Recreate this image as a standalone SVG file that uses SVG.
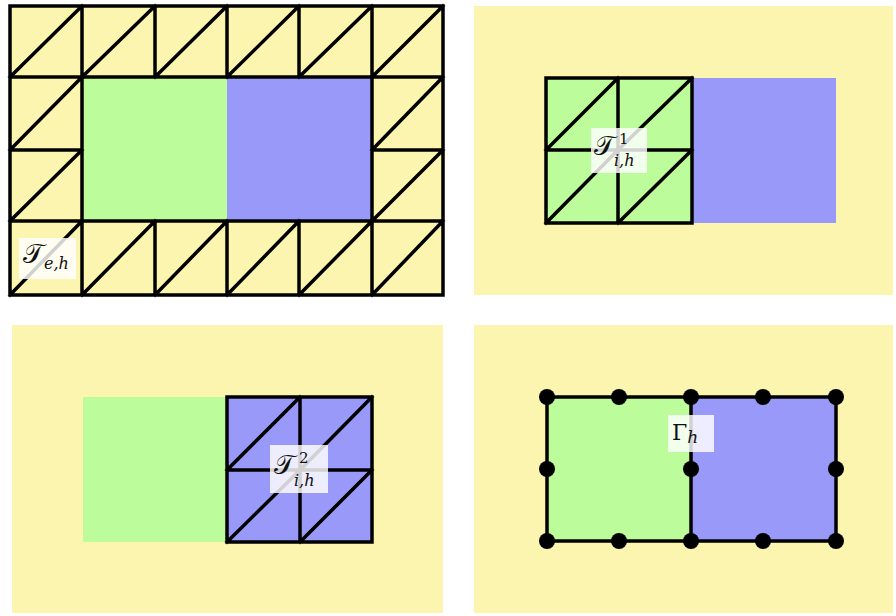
<svg xmlns="http://www.w3.org/2000/svg" width="896" height="616" viewBox="0 0 896 616">
<style>
.y{fill:#fcf5b0}
.g{fill:#bcfc9a}
.b{fill:#9999f9}
.m{stroke:#000;stroke-width:3.5;fill:none;stroke-linejoin:miter;stroke-linecap:square}
.lb{fill:#fff;fill-opacity:0.82}
.t{font-family:"DejaVu Serif","Liberation Serif",serif;fill:#111}
</style>
<rect width="896" height="616" fill="#fff"/>
<g id="panel-exterior">
<rect class="y" x="10" y="6" width="433" height="289"/>
<rect class="g" x="82" y="77" width="145" height="144"/>
<rect class="b" x="227" y="77" width="145" height="144"/>
<path class="m" d="M10,6H443V295H10Z M10,77H443 M10,150H82 M372,150H443 M10,221H443 M82,6V295 M372,6V295 M155,6V77 M227,6V77 M299,6V77 M155,221V295 M227,221V295 M299,221V295
M10,77L82,6 M82,77L155,6 M155,77L227,6 M227,77L299,6 M299,77L372,6 M372,77L443,6
M10,150L82,77 M10,221L82,150 M372,150L443,77 M372,221L443,150
M10,295L82,221 M82,295L155,221 M155,295L227,221 M227,295L299,221 M299,295L372,221 M372,295L443,221"/>
<rect class="lb" x="19" y="238" width="57" height="41"/>
<text class="t" x="23" y="263" font-size="27">𝒯<tspan font-size="16" font-style="italic" dy="6">e,h</tspan></text>
</g>
<g id="panel-interior-1">
<rect class="y" x="474" y="6" width="419" height="289"/>
<rect class="g" x="546" y="78" width="146" height="145"/>
<rect class="b" x="692" y="78" width="144" height="145"/>
<path class="m" d="M546,78H692V223H546Z M618,78V223 M546,150H692 M546,150L618,78 M618,150L692,78 M546,223L618,150 M618,223L692,150"/>
<rect class="lb" x="591" y="128" width="56" height="45"/>
<text class="t" x="594" y="155" font-size="27">𝒯</text>
<text class="t" x="619" y="144" font-size="15">1</text>
<text class="t" x="614" y="166" font-size="16" font-style="italic">i,h</text>
</g>
<g id="panel-interior-2">
<rect class="y" x="12" y="325" width="431" height="288"/>
<rect class="g" x="83" y="397" width="144" height="145"/>
<rect class="b" x="227" y="397" width="145" height="145"/>
<path class="m" d="M227,397H372V542H227Z M300,397V542 M227,470H372 M227,470L300,397 M300,470L372,397 M227,542L300,470 M300,542L372,470"/>
<rect class="lb" x="270" y="445" width="58" height="48"/>
<text class="t" x="274" y="474" font-size="27">𝒯</text>
<text class="t" x="299" y="463" font-size="15">2</text>
<text class="t" x="294" y="486" font-size="16" font-style="italic">i,h</text>
</g>
<g id="panel-interface">
<rect class="y" x="474" y="325" width="419" height="288"/>
<rect class="g" x="547" y="397" width="144" height="144"/>
<rect class="b" x="691" y="397" width="145" height="144"/>
<path class="m" d="M547,397H836V541H547Z M691,397V541"/>
<g fill="#000">
<circle cx="547" cy="397" r="8"/><circle cx="619" cy="397" r="8"/><circle cx="691" cy="397" r="8"/><circle cx="763" cy="397" r="8"/><circle cx="836" cy="397" r="8"/>
<circle cx="547" cy="469" r="8"/><circle cx="691" cy="469" r="8"/><circle cx="836" cy="469" r="8"/>
<circle cx="547" cy="541" r="8"/><circle cx="619" cy="541" r="8"/><circle cx="691" cy="541" r="8"/><circle cx="763" cy="541" r="8"/><circle cx="836" cy="541" r="8"/>
</g>
<rect class="lb" x="668" y="415" width="46" height="37"/>
<text class="t" x="672" y="440" font-size="22">Γ<tspan font-size="17" font-style="italic" dy="3">h</tspan></text>
</g>
</svg>
